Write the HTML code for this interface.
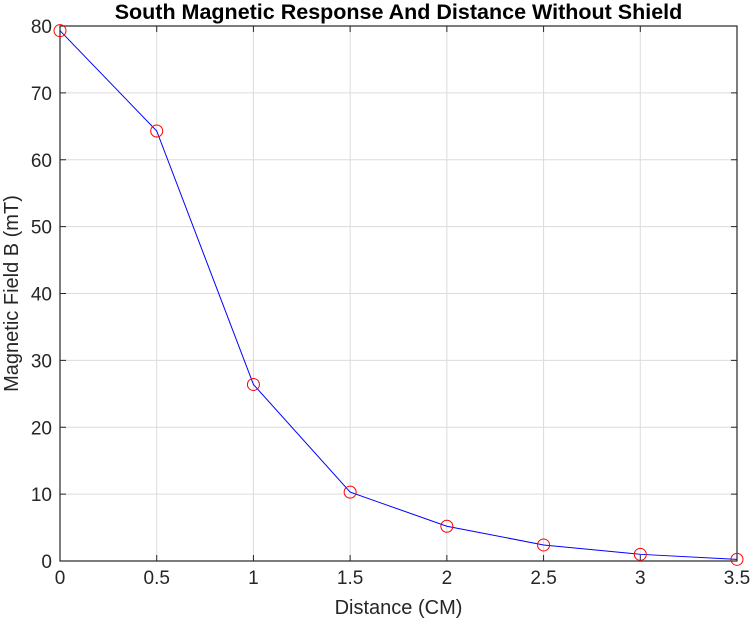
<!DOCTYPE html>
<html><head><meta charset="utf-8"><style>
body{margin:0;background:#fff;}
svg text{font-family:"Liberation Sans",Arial,sans-serif;}
</style></head><body>
<svg id="chart" width="754" height="622" xmlns="http://www.w3.org/2000/svg"></svg>
<script>
const xValues=[0,0.5,1,1.5,2,2.5,3,3.5];
const yValues=[79.3,64.3,26.4,10.3,5.2,2.4,1.0,0.25];
const xTicks=[0,0.5,1,1.5,2,2.5,3,3.5];
const yTicks=[0,10,20,30,40,50,60,70,80];
const L=60,R=737,T=26,B=561;
const sx=v=>L+(v-0)/(3.5)*(R-L);
const sy=v=>B-(v/80)*(B-T);
const svg=document.getElementById('chart');
const NS='http://www.w3.org/2000/svg';
function mk(tag,attrs,parent){const e=document.createElementNS(NS,tag);for(const k in attrs)e.setAttribute(k,attrs[k]);(parent||svg).appendChild(e);return e;}
mk('rect',{x:L,y:T,width:R-L,height:B-T,fill:'#fff'});
xTicks.forEach(t=>{
  const g=mk('line',{x1:sx(t),x2:sx(t),y1:T,y2:B,stroke:'#dcdcdc','stroke-width':1});
  
  
  mk('line',{x1:sx(t),x2:sx(t),y1:B,y2:B-6,stroke:'#262626'});
  mk('line',{x1:sx(t),x2:sx(t),y1:T,y2:T+6,stroke:'#262626'});
  const tx=mk('text',{x:sx(t),y:B+23,'text-anchor':'middle','font-size':19,fill:'#262626'});
  tx.textContent=t;
  
  
});
yTicks.forEach(t=>{
  const g=mk('line',{x1:L,x2:R,y1:sy(t),y2:sy(t),stroke:'#dcdcdc','stroke-width':1});
  
  
  mk('line',{x1:L,x2:L+6,y1:sy(t),y2:sy(t),stroke:'#262626'});
  mk('line',{x1:R,x2:R-6,y1:sy(t),y2:sy(t),stroke:'#262626'});
  const tx=mk('text',{x:L-8,y:sy(t)+7,'text-anchor':'end','font-size':19,fill:'#262626'});
  tx.textContent=t;
  
  
});
const box=mk('rect',{x:L,y:T,width:R-L,height:B-T,fill:'none',stroke:'#262626','stroke-width':1.2});


const line=mk('polyline',{points:xValues.map((x,i)=>sx(x)+','+sy(yValues[i])).join(' '),fill:'none',stroke:'#0000ff','stroke-width':1});


xValues.forEach((x,i)=>{
  const c=mk('circle',{cx:sx(x),cy:sy(yValues[i]),r:6,fill:'none',stroke:'#ff0000','stroke-width':1});
  
  
});
const title=mk('text',{x:(L+R)/2,y:19,'text-anchor':'middle','font-size':21.5,'font-weight':'bold',fill:'#000'});
title.textContent='South Magnetic Response And Distance Without Shield';


const xl=mk('text',{x:(L+R)/2,y:614,'text-anchor':'middle','font-size':20,fill:'#262626'});
xl.textContent='Distance (CM)';


const yl=mk('text',{x:0,y:0,'text-anchor':'middle','font-size':20,fill:'#262626',transform:'translate(18,'+((T+B)/2)+') rotate(-90)'});
yl.textContent='Magnetic Field B (mT)';


</script>
</body></html>
